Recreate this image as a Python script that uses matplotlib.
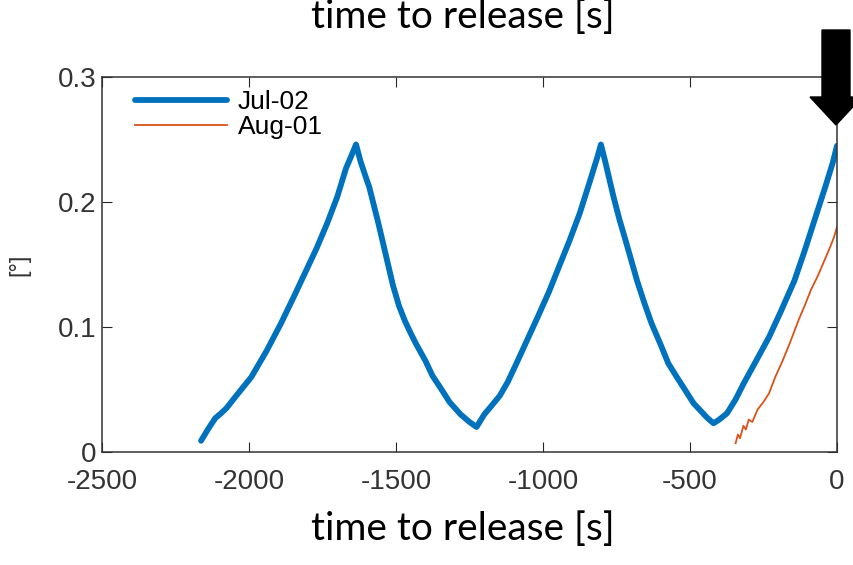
import numpy as np
import matplotlib.pyplot as plt
from matplotlib.patches import Polygon

# Jul-02 series (time to release [s], angle [deg])
jul_t = [-2163, -2140, -2115, -2095, -2077, -2040, -1992, -1940, -1891, -1850,
         -1806, -1770, -1734, -1700, -1670, -1650, -1636,
         -1620, -1600, -1591, -1560, -1533, -1510, -1490, -1470, -1450, -1433,
         -1400, -1376, -1345, -1318, -1280, -1250, -1226,
         -1200, -1175, -1147, -1120, -1090, -1055, -1018, -980, -946, -910,
         -875, -840, -815, -803,
         -790, -775, -760, -740, -720, -703, -680, -655, -631, -600,
         -574, -545, -515, -488, -460, -440, -420,
         -400, -374, -345, -317, -275, -231, -190, -145, -110, -73, -40, -15, 0]
jul_y = [0.009, 0.018, 0.027, 0.031, 0.035, 0.046, 0.060, 0.081, 0.103, 0.123,
         0.145, 0.163, 0.183, 0.204, 0.227, 0.238, 0.246,
         0.232, 0.218, 0.212, 0.183, 0.156, 0.133, 0.117, 0.105, 0.095, 0.087,
         0.073, 0.061, 0.050, 0.040, 0.030, 0.024, 0.020,
         0.030, 0.037, 0.045, 0.056, 0.071, 0.089, 0.108, 0.128, 0.148, 0.169,
         0.191, 0.217, 0.236, 0.246,
         0.234, 0.219, 0.204, 0.186, 0.170, 0.156, 0.137, 0.119, 0.103, 0.086,
         0.071, 0.060, 0.049, 0.039, 0.032, 0.027, 0.023,
         0.026, 0.031, 0.042, 0.055, 0.073, 0.092, 0.113, 0.137, 0.161, 0.188,
         0.212, 0.231, 0.245]

# Aug-01 series
aug_t = [-345, -337, -330, -318, -310, -300, -288, -270, -250, -231,
         -210, -185, -159, -130, -110, -88, -65, -45, -25, -10, 0]
aug_y = [0.007, 0.014, 0.011, 0.021, 0.018, 0.026, 0.024, 0.034, 0.040, 0.047,
         0.060, 0.073, 0.088, 0.106, 0.117, 0.130, 0.141, 0.152, 0.163, 0.172, 0.180]

xticks = [-2500, -2000, -1500, -1000, -500, 0]
yticks = [0, 0.1, 0.2, 0.3]

W, H = 854, 565
fig = plt.figure(figsize=(W / 100, H / 100), dpi=100)
ax = fig.add_axes([102 / W, 1 - 452 / H, (837 - 102) / W, (452 - 77) / H])

ax.plot(jul_t, jul_y, color='#0072BD', lw=4.2, label='Jul-02',
        solid_joinstyle='round', solid_capstyle='round')
ax.plot(aug_t, aug_y, color='#D95319', lw=1.3, label='Aug-01')

ax.set_xlim(-2500, 0)
ax.set_ylim(0, 0.3)
ax.set_xticks(xticks)
ax.set_yticks(yticks)
ax.set_xticklabels([str(v) for v in xticks])
ax.set_yticklabels(['0', '0.1', '0.2', '0.3'])

sans = ['Liberation Sans', 'DejaVu Sans']
for lab in ax.get_xticklabels() + ax.get_yticklabels():
    lab.set_fontfamily(sans)
    lab.set_fontsize(20)
ax.tick_params(direction='in', length=7, width=0.8, colors='#262626',
               top=True, right=True)
ax.tick_params(axis='x', pad=12, labelcolor='#333333')
ax.tick_params(axis='y', pad=4, labelcolor='#333333')
for sp in ax.spines.values():
    sp.set_color('#333333')
    sp.set_linewidth(1.1)

ax.set_ylabel('[°]', fontsize=17, color='#333333', family=sans, labelpad=20)

ax.legend(loc='upper left', bbox_to_anchor=(0.045, 0.965), frameon=False,
          handlelength=3.5, borderaxespad=0, borderpad=0, labelspacing=0.05,
          handletextpad=0.4, prop={'family': sans, 'size': 19})

# titles above and below
fig.text(463 / W, 1 - 28 / H, 'time to release [s]', ha='center', va='baseline',
         fontsize=28, family=['Lato', 'DejaVu Sans'])
fig.text(463 / W, 1 - 540 / H, 'time to release [s]', ha='center', va='baseline',
         fontsize=28, family=['Lato', 'DejaVu Sans'])

# black arrow pointing at the end of the Jul-02 curve
cx = 836
pts = [(cx - 14, 30), (cx + 14, 30), (cx + 14, 97), (cx + 26, 97), (cx, 125),
       (cx - 26, 97), (cx - 14, 97)]
arrow = Polygon([(x / W, 1 - y / H) for x, y in pts], closed=True,
                transform=fig.transFigure, color='black', zorder=10)
fig.patches.append(arrow)

fig.savefig('out.png', dpi=100)
